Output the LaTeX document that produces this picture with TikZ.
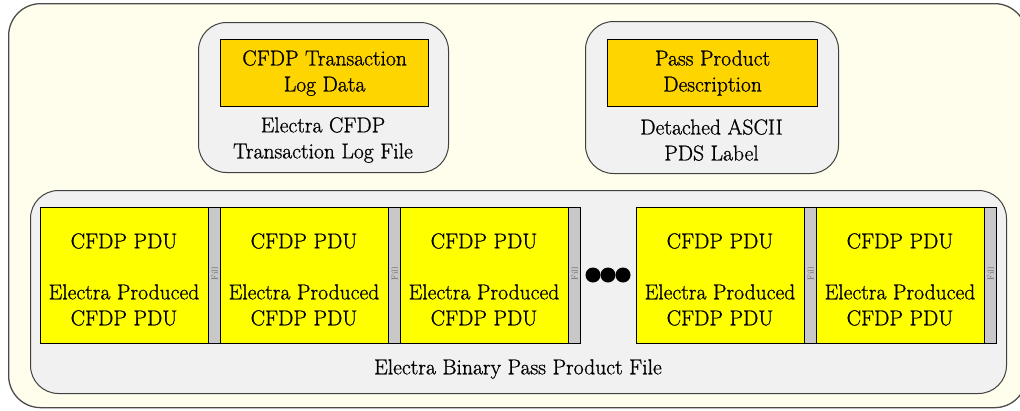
\documentclass[tikz,border=0pt]{standalone}
\usepackage{fontspec}
\newfontfamily\diagramserif{Latin Modern Roman}[FakeBold=0.9]
\definecolor{ivorybg}{HTML}{FFFEEC}
\definecolor{panelgray}{HTML}{F1F1F1}
\definecolor{goldfill}{HTML}{FFD500}
\definecolor{pduyellow}{HTML}{FFFF00}
\definecolor{fillgray}{HTML}{C8C8C8}
\tikzset{
  mainfont/.style={font=\diagramserif\fontsize{21.6}{26}\selectfont, text=black},
  container/.style={draw=black!70, line width=1.3pt, fill=ivorybg, rounded corners=32pt, anchor=north west, inner sep=0pt},
  panel/.style={draw=black!75, line width=1pt, fill=panelgray, rounded corners=28pt, anchor=north west, inner sep=0pt},
  goldbox/.style={draw=black, line width=1.2pt, fill=goldfill, anchor=north west, inner sep=0pt},
  pdubox/.style={draw=black, line width=1.2pt, fill=pduyellow, anchor=north west, inner sep=0pt,
    minimum width=168pt, minimum height=136pt},
  fillstrip/.style={draw=black, line width=1.2pt, fill=fillgray, anchor=north west, inner sep=0pt,
    minimum width=12pt, minimum height=136pt},
  striptext/.style={rotate=90, font=\fontsize{8.5}{8.5}\selectfont, text=black!60, inner sep=0pt},
  caption/.style={mainfont, align=center, inner sep=0pt},
  dot/.style={circle, fill=black, minimum size=15pt, inner sep=0pt}
}
\begin{document}
\begin{tikzpicture}[x=1pt, y=-1pt]
\useasboundingbox (0,0) rectangle (1020,410);
\clip (0,0) rectangle (1020,410);

% outer file container
\node[container, minimum width=1018pt, minimum height=404pt] (product) at (8,3) {};

% transaction log file panel
\node[panel, minimum width=250pt, minimum height=150pt] (logfile) at (198,22) {};
\node[goldbox, minimum width=208pt, minimum height=67pt] (logdata) at (220,39) {};
\node[caption] (logdatatext) at (logdata.center) {CFDP Transaction\\Log Data};
\node[caption] (logfiletext) at (323,140) {Electra CFDP\\Transaction Log File};

% PDS label panel
\node[panel, minimum width=253pt, minimum height=152pt] (pdslabel) at (585,21) {};
\node[goldbox, minimum width=210pt, minimum height=67pt] (ppdesc) at (607,39) {};
\node[caption] (ppdesctext) at (ppdesc.center) {Pass Product\\Description};
\node[caption] (pdslabeltext) at (711.5,140) {Detached ASCII\\PDS Label};

% binary pass product file panel
\node[panel, minimum width=976pt, minimum height=203pt] (binfile) at (30,190) {};
\node[caption] (binfiletext) at (518,369) {Electra Binary Pass Product File};

% CFDP PDUs, each followed by a fill strip
\foreach \i/\x in {1/40, 2/220, 3/400, 4/636, 5/816} {
  \node[pdubox] (pdu\i) at (\x,207) {};
  \node[caption] (pduhead\i) at (\x+84,241) {CFDP PDU};
  \node[caption] (pdubody\i) at (\x+84,305) {Electra Produced\\CFDP PDU};
  \node[fillstrip] (strip\i) at (\x+168,207) {};
  \node[striptext] (striplabel\i) at (strip\i.center |- 0,274) {Fill};
}

% ellipsis between the third and fourth PDU
\node[dot] (dotA) at (593,275) {};
\node[dot] (dotB) at (608,275) {};
\node[dot] (dotC) at (623,275) {};
\end{tikzpicture}
\end{document}
